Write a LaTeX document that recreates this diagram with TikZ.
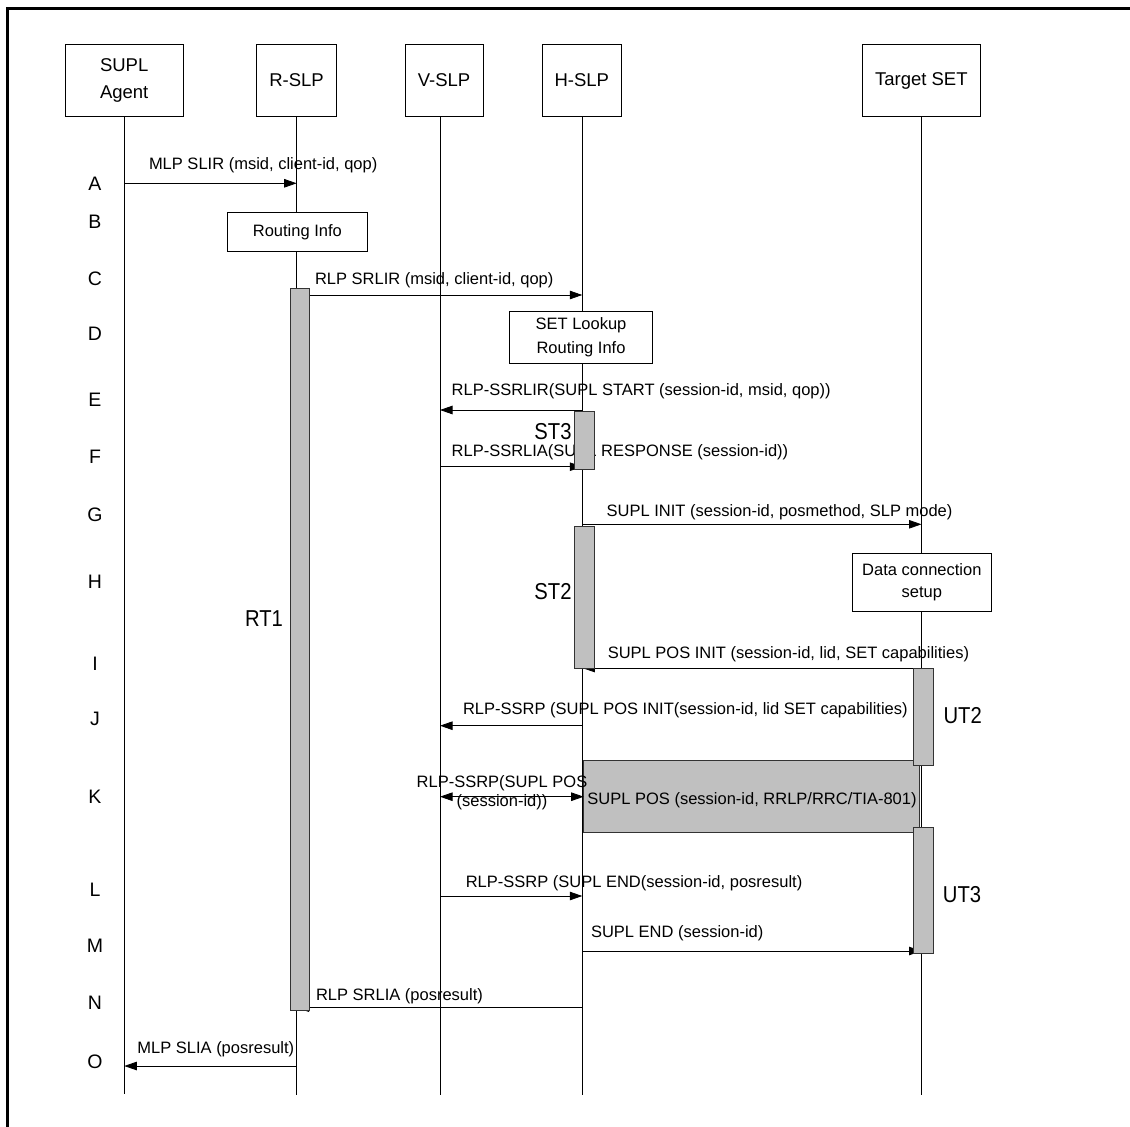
\documentclass[tikz,border=0pt]{standalone}
\usepackage{fontspec}
\setmainfont{Liberation Sans}
\newfontfamily\condfont{Liberation Sans}[FakeStretch=0.88]
\usetikzlibrary{arrows.meta}
\definecolor{barfill}{RGB}{192,192,192}
\begin{document}
\begin{tikzpicture}[x=1pt,y=-1pt,
  every node/.style={inner sep=0pt, outer sep=0pt},
  lbl/.style={font=\fontsize{16.5}{19.4}\selectfont, anchor=west},
  letter/.style={font=\fontsize{19.5}{20}\selectfont},
  biglbl/.style={font=\condfont\fontsize{23}{24}\selectfont},
  header/.style={draw, line width=0.9pt, fill=white, align=center, minimum height=72.4pt,
    font=\fontsize{18.5}{26.7}\selectfont},
  infobox/.style={draw, line width=0.9pt, fill=white, align=center,
    font=\fontsize{16.5}{23.6}\selectfont},
  lifeline/.style={line width=0.8pt},
  msg/.style={line width=0.8pt, -{Triangle[length=12.5pt,width=8.5pt]}},
  dmsg/.style={line width=0.8pt, {Triangle[length=12.5pt,width=8.5pt]}-{Triangle[length=12.5pt,width=8.5pt]}},
  bar/.style={draw=black!80, fill=barfill, line width=0.8pt},
  frame/.style={line width=2.5pt}
]
\useasboundingbox (0,0) rectangle (1130,1127);
% frame
\coordinate (fTR) at (1130,8.5);
\coordinate (fTL) at (7.3,8.5);
\coordinate (fBL) at (7.3,1127);
\draw[frame] (fTR) -- (fTL) -- (fBL);

% headers
\node[header, minimum width=118.3pt] (agent) at (124.2,80.5) {SUPL\\Agent};
\node[header, minimum width=80pt] (rslp) at (296.5,80.5) {R-SLP};
\node[header, minimum width=78pt] (vslp) at (444,80.5) {V-SLP};
\node[header, minimum width=78.4pt] (hslp) at (581.8,80.5) {H-SLP};
\node[header, minimum width=117.4pt] (tset) at (921.3,80.5) {Target SET};

% lifelines
\coordinate (aTop) at (124.3,116.7); \coordinate (aEnd) at (124.3,1094);
\coordinate (rTop) at (296.7,116.7); \coordinate (rEnd) at (296.7,1095);
\coordinate (vTop) at (440,116.7);   \coordinate (vEnd) at (440,1095);
\coordinate (hTop) at (582.3,116.7); \coordinate (hEnd) at (582.3,1095);
\coordinate (tTop) at (921.5,116.7); \coordinate (tEnd) at (921.5,1095);
\draw[lifeline] (aTop) -- (aEnd);
\draw[lifeline] (rTop) -- (rEnd);
\draw[lifeline] (vTop) -- (vEnd);
\draw[lifeline] (hTop) -- (hEnd);
\draw[lifeline] (tTop) -- (tEnd);

% step letters
\node[letter] (lA) at (95,183.3) {A};
\node[letter] (lB) at (95,221.7) {B};
\node[letter] (lC) at (95,278.3) {C};
\node[letter] (lD) at (95,333.3) {D};
\node[letter] (lE) at (95,400) {E};
\node[letter] (lF) at (95,456.7) {F};
\node[letter] (lG) at (95,515) {G};
\node[letter] (lH) at (95,581.7) {H};
\node[letter] (lI) at (95,663.3) {I};
\node[letter] (lJ) at (95,719) {J};
\node[letter] (lK) at (95,796.7) {K};
\node[letter] (lL) at (95,889.3) {L};
\node[letter] (lM) at (95,946) {M};
\node[letter] (lN) at (95,1002.7) {N};
\node[letter] (lO) at (95,1061.7) {O};

% message end points
\coordinate (A1) at (124.3,183.3); \coordinate (A2) at (296.7,183.3);
\coordinate (C1) at (309.3,295);   \coordinate (C2) at (582.3,295);
\coordinate (E1) at (582.3,410);   \coordinate (E2) at (440,410);
\coordinate (F1) at (440,466.7);   \coordinate (F2) at (582.3,466.7);
\coordinate (G1) at (582.3,524.3); \coordinate (G2) at (921.5,524.3);
\coordinate (I1) at (921.5,668);   \coordinate (I2) at (582.3,668);
\coordinate (J1) at (582.3,725.7); \coordinate (J2) at (440,725.7);
\coordinate (K1) at (440,796.7);
\coordinate (L1) at (440,896);     \coordinate (L2) at (582.3,896);
\coordinate (M1) at (582.3,951);   \coordinate (M2) at (921.5,951);
\coordinate (N1) at (582.3,1007.7);\coordinate (N2) at (296.7,1007.7);
\coordinate (O1) at (296.7,1066);  \coordinate (O2) at (124.3,1066);

% SUPL POS box (K)
\node[bar, minimum width=335.6pt, minimum height=72pt] (posbox) at (751.5,796.7) {};
\node[lbl, anchor=center] (posTxt) at (752,800.7) {SUPL POS (session-id, RRLP/RRC/TIA-801)};

% messages
\draw[msg] (A1) -- (A2);
\draw[msg] (C1) -- (C2);
\draw[msg] (E1) -- (E2);
\draw[msg] (F1) -- (F2);
\draw[msg] (G1) -- (G2);
\draw[msg] (I1) -- (I2);
\draw[msg] (J1) -- (J2);
\draw[dmsg] (K1) -- (posbox.west |- K1);
\draw[msg] (L1) -- (L2);
\draw[msg] (M1) -- (M2);
\draw[msg] (N1) -- (N2);
\draw[msg] (O1) -- (O2);

% message labels
\node[lbl] (tA) at (149,165) {MLP SLIR (msid, client-id, qop)};
\node[lbl] (tC) at (315,280) {RLP SRLIR (msid, client-id, qop)};
\node[lbl] (tE) at (451.7,391) {RLP-SSRLIR(SUPL START (session-id, msid, qop))};
\node[lbl] (tF) at (451.7,452.5) {RLP-SSRLIA(SUPL RESPONSE (session-id))};
\node[lbl] (tG) at (606.7,512.5) {SUPL INIT (session-id, posmethod, SLP mode)};
\node[lbl] (tI) at (607.8,654) {SUPL POS INIT (session-id, lid, SET capabilities)};
\node[lbl] (tJ) at (463,710) {RLP-SSRP (SUPL POS INIT(session-id, lid SET capabilities)};
\node[lbl, align=center, anchor=center] (tK) at (502,793) {RLP-SSRP(SUPL POS\\(session-id))};
\node[lbl] (tL) at (465.8,883.3) {RLP-SSRP (SUPL END(session-id, posresult)};
\node[lbl] (tM) at (591,933.3) {SUPL END (session-id)};
\node[lbl] (tN) at (316,996.7) {RLP SRLIA (posresult)};
\node[lbl] (tO) at (137.4,1049) {MLP SLIA (posresult)};

% activation bars
\node[bar, minimum width=19.3pt, minimum height=721.7pt] (rt1) at (299.65,649.15) {};
\node[bar, minimum width=20pt, minimum height=57.6pt] (st3) at (584.7,440.5) {};
\node[bar, minimum width=20pt, minimum height=142.3pt] (st2) at (584.7,597.15) {};
\node[bar, minimum width=20pt, minimum height=97.4pt] (ut2) at (923.3,717) {};
\node[bar, minimum width=20pt, minimum height=125.3pt] (ut3) at (923.3,890.35) {};

\node[biglbl] (rt1l) at (264,619) {RT1};
\node[biglbl] (st3l) at (553,431.5) {ST3};
\node[biglbl] (st2l) at (553,591.7) {ST2};
\node[biglbl] (ut2l) at (962.7,715.7) {UT2};
\node[biglbl] (ut3l) at (962,895) {UT3};

% info boxes
\node[infobox, minimum width=140.1pt, minimum height=39.4pt] (routing) at (297.35,232) {Routing Info};
\node[infobox, minimum width=143.4pt, minimum height=51.6pt] (lookup) at (581,337.5) {SET Lookup\\Routing Info};
\node[infobox, minimum width=139.7pt, minimum height=57.7pt, font=\fontsize{16.5}{21.6}\selectfont] (dataconn) at (921.85,582.15) {Data connection\\setup};
\end{tikzpicture}
\end{document}
